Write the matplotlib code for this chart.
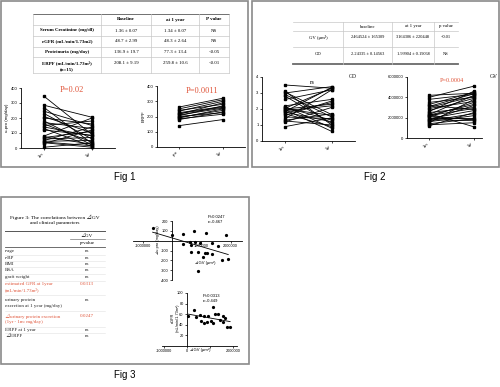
import numpy as np
import matplotlib
matplotlib.use("Agg")
import matplotlib.pyplot as plt
from matplotlib.patches import Rectangle
from matplotlib.lines import Line2D

W, H = 500, 387
RED = "#e0553a"
SERIF = ["Liberation Serif", "DejaVu Serif", "Noto Sans CJK JP"]
SANS = ["Liberation Sans", "DejaVu Sans", "Noto Sans CJK JP"]

# ---- Fig 1 table ----
t1_header = ["", "Baseline", "at 1 year", "P value"]
t1_rows = ["Serum Creatinine (mg/dl)", "eGFR (mL/min/1.73m2)", "Proteinuria (mg/day)",
           "ERPF (mL/min/1.73m²)\n(n=15)"]
t1_base = ["1.36 ± 0.07", "48.7 ± 2.99", "136.9 ± 19.7", "208.1 ± 9.19"]
t1_year = ["1.34 ± 0.07", "48.3 ± 2.64", "77.3 ± 13.4", "259.8 ± 10.6"]
t1_p = ["NS", "NS", "<0.05", "<0.01"]

# ---- Fig 1 paired data ----
upro_1m = [345, 285, 270, 245, 230, 210, 200, 180, 170, 160, 150, 130,
           120, 80, 75, 70, 60, 50, 45, 40, 35, 30, 5, 140]
upro_1yr = [90, 205, 30, 150, 60, 100, 160, 20, 130, 40, 180, 10,
            85, 200, 25, 110, 70, 140, 50, 15, 5, 120, 35, 80]
erpf_pre = [140, 180, 185, 190, 195, 200, 205, 210, 215, 220, 225, 235, 240, 250, 262]
erpf_1yr = [180, 230, 215, 250, 240, 225, 270, 255, 290, 260, 265, 300, 280, 310, 320]

# ---- Fig 2 table ----
t2_header = ["", "baseline", "at 1 year", "p value"]
t2_rows = ["GV (μm³)", "GD"]
t2_base = ["2464524 ± 165309", "2.24335 ± 0.14563"]
t2_year = ["3164306 ± 220448", "1.99904 ± 0.19068"]
t2_p = ["<0.01", "NS"]

# ---- Fig 2 paired data ----
gd_1m = [3.5, 3.1, 3.0, 2.9, 2.8, 2.6, 2.2, 2.1, 2.05, 2.0, 2.0, 1.95, 1.9,
         1.85, 1.8, 1.7, 1.6, 1.5, 1.4, 1.3, 1.25, 1.2, 0.9, 2.15, 1.75, 3.05]
gd_1yr = [3.3, 1.0, 3.4, 1.5, 1.1, 3.2, 2.6, 1.3, 3.3, 1.6, 2.3, 0.6, 2.2,
          3.35, 1.2, 0.9, 2.5, 1.4, 3.2, 1.7, 1.0, 2.1, 1.45, 0.8, 2.4, 1.65]
gv_1m = [4200000, 4000000, 3800000, 3500000, 3300000, 3200000, 3000000,
         2900000, 2700000, 2500000, 2400000, 2300000, 2250000, 2200000,
         2100000, 2000000, 1900000, 1800000, 1700000, 1600000, 1500000,
         1400000, 1300000, 1200000, 2600000, 3100000, 1750000, 2150000]
gv_1yr = [4400000, 5100000, 4300000, 4000000, 4500000, 2800000, 4100000,
          3600000, 3900000, 3000000, 1100000, 4200000, 3300000, 2900000,
          3500000, 2000000, 2700000, 1700000, 2400000, 2200000, 3800000,
          1900000, 1500000, 2500000, 4600000, 4350000, 3200000, 1800000]

# ---- Fig 3 table ----
f3_params = ["r-age", "r-BP", "BMI", "BSA", "graft weight",
             "estimated GFR at 1year\n(mL/min/1.73m²)",
             "urinary protein\nexcretion at 1 year (mg/day)",
             "⊿urinary protein excretion\n(1yr - 1m: mg/day)",
             "ERPF at 1 year", "⊿ERPF"]
f3_pvals = ["ns", "ns", "ns", "ns", "ns", "0.0313", "ns", "0.0247", "ns", "ns"]

# ---- Fig 3 scatter data ----
dgv_a = [-660000, 10000, 390000, 750000, 1150000, 1830000, 390000, 610000,
         780000, 960000, 650000, 1350000, 1580000, 650000, 900000, 1130000,
         1200000, 1070000, 1350000, 1700000, 1920000, 900000]
dupro = [126, 58, 68, 102, 75, 58, -37, -10, -10, -26, -44, -26, -54, -118,
         -118, -122, -128, -163, -138, -196, -186, -308]
dgv_b = [320000, 540000, 740000, 930000, 1140000, 1360000, 1550000, 380000,
         610000, 740000, 860000, 1040000, 1140000, 1430000, 1580000, 1720000,
         1870000, 60000, 1650000, 1220000]
egfr = [67, 58, 57, 57, 74, 60, 57, 55, 48, 44, 46, 47, 43, 49, 46, 36, 36,
        57, 52, 60]

fig = plt.figure(figsize=(5, 3.87), dpi=100)


def fx(x):
    return x / W


def fy(y):
    return 1 - y / H


def box(x0, y0, x1, y1, color="#8a8a8a", lw=1.2):
    fig.add_artist(Rectangle((fx(x0), fy(y1)), (x1 - x0) / W, (y1 - y0) / H,
                             transform=fig.transFigure, fill=False,
                             edgecolor=color, lw=lw))


def hline(x0, x1, y, color="#c8c8c8", lw=0.5):
    fig.add_artist(Line2D([fx(x0), fx(x1)], [fy(y), fy(y)], color=color,
                          lw=lw, transform=fig.transFigure))


def vline(x, y0, y1, color="#c8c8c8", lw=0.5):
    fig.add_artist(Line2D([fx(x), fx(x)], [fy(y0), fy(y1)], color=color,
                          lw=lw, transform=fig.transFigure))


def txt(x, y, s, size=3.6, ha="center", va="center", family=SERIF, **kw):
    fig.text(fx(x), fy(y), s, size=size, ha=ha, va=va, family=family, **kw)


def axes_px(x0, y0, x1, y1):
    return fig.add_axes([fx(x0), fy(y1), (x1 - x0) / W, (y1 - y0) / H])


def style(ax, size=3.0):
    for s in ["top", "right"]:
        ax.spines[s].set_visible(False)
    for s in ["left", "bottom"]:
        ax.spines[s].set_linewidth(0.6)
    ax.tick_params(length=1.5, width=0.5, labelsize=size, pad=1)
    for lab in ax.get_xticklabels() + ax.get_yticklabels():
        lab.set_family(SANS)
    ax.patch.set_alpha(0)


def paired(ax, a, b, xlim, ylim, yticks, xlabels):
    for va, vb in zip(a, b):
        ax.plot([0, 1], [va, vb], color="black", lw=0.6, marker="s", ms=1.5,
                clip_on=False)
    ax.set_xlim(xlim)
    ax.set_ylim(ylim)
    ax.set_yticks(yticks)
    ax.set_yticklabels([str(v) for v in yticks])
    ax.set_xticks([0, 1])
    ax.set_xticklabels(xlabels, rotation=45, ha="right", va="top")
    style(ax)


# ---------------- panel boxes ----------------
box(1, 1, 248, 167)
box(252, 1, 499, 167)
box(1, 197, 249, 364)
txt(125, 177, "Fig 1", size=7, family=SANS)
txt(375, 177, "Fig 2", size=7, family=SANS)
txt(125, 375, "Fig 3", size=7, family=SANS)

# ---------------- Fig 1 table ----------------
cx = [33, 101, 151, 199, 229]
ry = [14, 25, 36, 47, 57, 73]
for y in ry[1:]:
    hline(cx[0], cx[-1], y)
hline(cx[0], cx[-1], ry[0], color="#707070", lw=0.7)
for x in cx:
    vline(x, ry[0], ry[-1])
mid = [(cx[i] + cx[i + 1]) / 2 for i in range(4)]
for i, h in enumerate(t1_header):
    txt(mid[i], 19.5, h, size=3.6, weight="bold")
text_y = [30.5, 41.5, 52, 63]
for i in range(4):
    lines = t1_rows[i].split("\n")
    for k, ln in enumerate(lines):
        txt(mid[0], text_y[i] + 6 * k, ln, size=3.5, weight="bold")
    txt(mid[1], text_y[i], t1_base[i], size=3.5)
    txt(mid[2], text_y[i], t1_year[i], size=3.5)
    txt(mid[3], text_y[i], t1_p[i], size=3.5)

# ---------------- Fig 1 plots ----------------
ax = axes_px(21, 88, 115, 148)
paired(ax, upro_1m, upro_1yr, (-0.48, 1.48), (0, 400), [0, 100, 200, 300, 400],
       ["1m", "1yr"])
ax.set_ylabel("u-pro (mg/day)", size=3.2, labelpad=1, family=SANS)
txt(72, 90, "P=0.02", size=6, color=RED)

ax = axes_px(157, 86, 245, 147)
paired(ax, erpf_pre, erpf_1yr, (-0.5, 1.5), (0, 400), [0, 100, 200, 300, 400],
       ["pre", "1yr"])
ax.set_ylabel("ERPF", size=3.2, labelpad=1, family=SANS)
txt(202, 91, "P=0.0011", size=6, color=RED)

# ---------------- Fig 2 table ----------------
cx2 = [293, 343, 392, 434, 458]
ry2 = [22, 31, 47, 64]
hline(cx2[0], cx2[-1], ry2[0])
hline(cx2[0], cx2[-1], ry2[1])
hline(cx2[0], cx2[-1], ry2[2])
hline(cx2[0], cx2[-1], ry2[3], color="#6a6a6a", lw=1.3)
for x in cx2[1:-1]:
    vline(x, ry2[0], ry2[3])
mid2 = [(cx2[i] + cx2[i + 1]) / 2 for i in range(4)]
for i, h in enumerate(t2_header):
    txt(mid2[i], 26.5, h, size=3.4)
for i, y in enumerate([37, 54]):
    txt(mid2[0], y, t2_rows[i], size=3.4)
    txt(mid2[1], y, t2_base[i], size=3.2)
    txt(mid2[2], y, t2_year[i], size=3.2)
    txt(mid2[3], y, t2_p[i], size=3.2)

# ---------------- Fig 2 plots ----------------
ax = axes_px(262, 77, 355, 141)
paired(ax, gd_1m, gd_1yr, (-0.5, 1.5), (0, 4), [0, 1, 2, 3, 4], ["1m", "1yr"])
txt(312, 83, "ns", size=4)
txt(353, 77, "GD", size=4)

ax = axes_px(407, 77, 482, 138)
paired(ax, gv_1m, gv_1yr, (-0.49, 1.18), (0, 6000000),
       [0, 2000000, 4000000, 6000000], ["1m", "1yr"])
txt(452, 81, "P=0.0004", size=4.5, color=RED)
txt(494, 77, "GV", size=4)

# ---------------- Fig 3 table ----------------
txt(55, 217, "Figure 3: The correlations between ⊿GV", size=3.9)
txt(55, 223, "and clinical parameters", size=3.9)
hline(5, 105, 231, color="#555555", lw=0.7)
txt(87, 235.5, "⊿GV", size=3.6)
hline(70, 105, 239, color="#777777", lw=0.5)
txt(87, 243, "p-value", size=3.6)
hline(5, 105, 247, color="#555555", lw=0.6)
row_y = [251, 258, 264, 270, 277, 284, 300, 316, 330, 336]
for i, (name, p) in enumerate(zip(f3_params, f3_pvals)):
    col = RED if p != "ns" else "#222222"
    for k, ln in enumerate(name.split("\n")):
        txt(5, row_y[i] + 6 * k, ln, size=3.6, ha="left", color=col)
    txt(87, row_y[i], p, size=3.6, color=col)
for y in [254.5, 261, 267, 273.5, 280.5, 295, 311, 327, 333]:
    hline(5, 105, y, color="#e2e2e2", lw=0.4)

# ---------------- Fig 3 scatter 1 ----------------
ax = axes_px(133, 221, 242, 280)
ax.plot(dgv_a, dupro, "o", color="black", ms=1.3, clip_on=False)
k, b0 = np.polyfit(dgv_a, dupro, 1)
xs = np.array([min(dgv_a), max(dgv_a)])
ax.plot(xs, k * xs + b0, color="black", lw=0.6)
ax.set_xlim(-1330000, 2390000)
ax.set_ylim(-400, 200)
ax.spines["left"].set_position(("data", 0))
ax.spines["bottom"].set_position(("data", 0))
ax.set_xticks([-1000000, 1000000, 2000000])
ax.set_xticklabels(["-1000000", "1000000", "2000000"])
yt = [-400, -300, -200, -100, 100, 200]
ax.set_yticks(yt)
ax.set_yticklabels([str(v) for v in yt])
style(ax, size=2.8)
txt(158, 240, "⊿u-pro (mg/day)", size=2.8, rotation=90, family=SANS)
txt(205, 263, "⊿GV (μm³)", size=3, family=SANS)
txt(208, 217, "P=0.0247", size=3, ha="left", family=SANS)
txt(208, 222.5, "r=-0.467", size=3, ha="left", family=SANS)

# ---------------- Fig 3 scatter 2 ----------------
ax = axes_px(162, 293, 237, 346)
ax.plot(dgv_b, egfr, "o", color="black", ms=1.3, clip_on=False)
k, b0 = np.polyfit(dgv_b, egfr, 1)
xs = np.array([min(dgv_b), max(dgv_b)])
ax.plot(xs, k * xs + b0, color="black", lw=0.6)
ax.set_xlim(-1090000, 2170000)
ax.set_ylim(0, 100)
ax.spines["left"].set_position(("data", 0))
ax.set_xticks([-1000000, 0, 1000000, 2000000])
ax.set_xticklabels(["-1000000", "0", "", "2000000"])
yt = [20, 40, 60, 80, 100]
ax.set_yticks(yt)
ax.set_yticklabels([str(v) for v in yt])
style(ax, size=2.8)
txt(175, 318, "eGFR\n(mL/min/1.73m²)", size=2.8, rotation=90, family=SANS)
txt(200, 349.5, "⊿GV (μm³)", size=3, family=SANS)
txt(203, 296, "P=0.0313", size=3, ha="left", family=SANS)
txt(203, 301.5, "r=-0.449", size=3, ha="left", family=SANS)

fig.savefig("out.png", dpi=100)
